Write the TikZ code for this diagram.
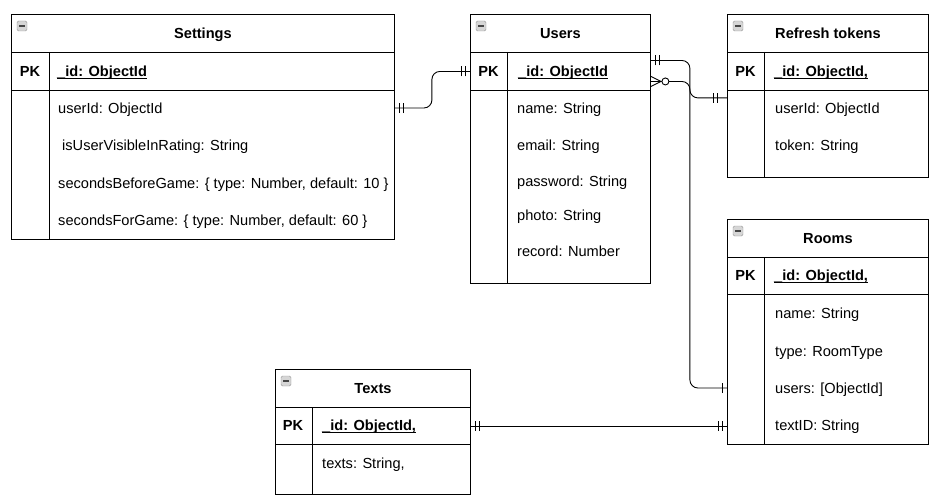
\documentclass[tikz,border=0pt]{standalone}
\usepackage{fontspec}
\setmainfont{Liberation Sans}
\usepackage{tikz}
\usetikzlibrary{decorations.markings}
\usepackage{xcolor}
\definecolor{ColLine}{RGB}{0,0,0}
\definecolor{ColIcon}{RGB}{214,214,214}
\definecolor{ColIconLine}{RGB}{150,150,150}
\definecolor{ColMinus}{RGB}{70,70,70}
\newcommand{\DiaFont}{\fontsize{14.6}{18}\selectfont}
\newcommand{\KeyUl}[1]{\setbox0\hbox{#1}\rlap{\rule[-2.2pt]{\wd0}{0.9pt}}\box0}
\tikzstyle{TabCell}=[draw=ColLine,line width=0.9pt,inner sep=0pt,anchor=north west]
\tikzstyle{TabHead}=[TabCell,minimum height=38pt,text height=10.7pt,text depth=0pt,font=\DiaFont\bfseries]
\tikzstyle{TabLine}=[ColLine,line width=0.9pt]
\tikzstyle{FieldText}=[inner sep=0pt,text height=10.7pt,text depth=0pt,anchor=west]
\tikzstyle{KeyText}=[FieldText,font=\DiaFont\bfseries]
\tikzstyle{PKText}=[FieldText,anchor=center,font=\DiaFont\bfseries]
\tikzstyle{TabIcon}=[draw=ColIconLine,fill=ColIcon,rounded corners=1.5pt,minimum size=10pt,
inner sep=0pt,path picture={\draw[ColMinus,line width=1.3pt]([xshift=-3pt]path picture bounding box.center)--([xshift=3pt]path picture bounding box.center);}]
\tikzstyle{Rel}=[draw=ColLine,line width=0.9pt,rounded corners=8pt]
\tikzset{
  MandStart/.style={postaction={decorate,decoration={markings,
    mark=at position 5pt with {\draw[TabLine](0,-5pt)--(0,5pt);},
    mark=at position 9pt with {\draw[TabLine](0,-5pt)--(0,5pt);}}}},
  MandEnd/.style={postaction={decorate,decoration={markings,
    mark=at position -5pt with {\draw[TabLine](0,-5pt)--(0,5pt);},
    mark=at position -9pt with {\draw[TabLine](0,-5pt)--(0,5pt);}}}},
  MandEndFar/.style={postaction={decorate,decoration={markings,
    mark=at position -10pt with {\draw[TabLine](0,-5pt)--(0,5pt);},
    mark=at position -14pt with {\draw[TabLine](0,-5pt)--(0,5pt);}}}},
  OneEnd/.style={postaction={decorate,decoration={markings,
    mark=at position -5pt with {\draw[TabLine](0,-5pt)--(0,5pt);}}}},
  ZeroManyStart/.style={postaction={decorate,decoration={markings,
    mark=at position 10pt with {\draw[TabLine](0,0)--(-10pt,5pt)(0,0)--(-10pt,-5pt);},
    mark=at position 14.5pt with {\draw[TabLine,fill=white](0,0)circle(3.5pt);}}}}
}

\begin{document}
\begin{tikzpicture}[x=1pt,y=-1pt,font=\DiaFont]
        \useasboundingbox(0,0)rectangle(941,503);
        \node[TabHead,minimum width=383pt](setHead)at(11,14){Settings};
        \node[TabCell,minimum width=383pt,minimum height=38pt](setPK)at(11,52){};
        \node[TabCell,minimum width=383pt,minimum height=149pt](setBody)at(11,90){};
        \draw[TabLine]([xshift=38pt]setPK.north west)--([xshift=38pt]setBody.south west);
        \node[TabIcon](setIcon)at([xshift=11pt,yshift=-12pt]setHead.north west){};
        \node[PKText](setPKl)at(30,71){PK};
        \node[KeyText](setKey)at(57,71){\KeyUl{\_id: ObjectId}};
        \node[FieldText](setUser)at(58,108){userId: ObjectId};
        \node[FieldText](setVisible)at(62,145){isUserVisibleInRating: String};
        \node[FieldText](setBefore)at(58,183){secondsBeforeGame: \{ type: Number, default: 10 \}};
        \node[FieldText](setFor)at(58,220){secondsForGame: \{ type: Number, default: 60 \}};

        \node[TabHead,minimum width=180pt](usrHead)at(470,14){Users};
        \node[TabCell,minimum width=180pt,minimum height=38pt](usrPK)at(470,52){};
        \node[TabCell,minimum width=180pt,minimum height=193pt](usrBody)at(470,90){};
        \draw[TabLine]([xshift=37pt]usrPK.north west)--([xshift=37pt]usrBody.south west);
        \node[TabIcon](usrIcon)at([xshift=11pt,yshift=-12pt]usrHead.north west){};
        \node[PKText](usrPKl)at(488.5,71){PK};
        \node[KeyText](usrKey)at(518,71){\KeyUl{\_id: ObjectId}};
        \node[FieldText](usrName)at(517,108){name: String};
        \node[FieldText](usrEmail)at(517,145){email: String};
        \node[FieldText](usrPass)at(517,181){password: String};
        \node[FieldText](usrPhoto)at(517,215){photo: String};
        \node[FieldText](usrRecord)at(517,251){record: Number};

        \node[TabHead,minimum width=201pt](rfsHead)at(727,14){Refresh tokens};
        \node[TabCell,minimum width=201pt,minimum height=38pt](rfsPK)at(727,52){};
        \node[TabCell,minimum width=201pt,minimum height=87pt](rfsBody)at(727,90){};
        \draw[TabLine]([xshift=37pt]rfsPK.north west)--([xshift=37pt]rfsBody.south west);
        \node[TabIcon](rfsIcon)at([xshift=11pt,yshift=-12pt]rfsHead.north west){};
        \node[PKText](rfsPKl)at(745.5,71){PK};
        \node[KeyText](rfsKey)at(774,71){\KeyUl{\_id: ObjectId,}};
        \node[FieldText](rfsUser)at(775,108){userId: ObjectId};
        \node[FieldText](rfsToken)at(775,145){token: String};

        \node[TabHead,minimum width=201pt](rmsHead)at(727,219){Rooms};
        \node[TabCell,minimum width=201pt,minimum height=37pt](rmsPK)at(727,257){};
        \node[TabCell,minimum width=201pt,minimum height=150pt](rmsBody)at(727,294){};
        \draw[TabLine]([xshift=37pt]rmsPK.north west)--([xshift=37pt]rmsBody.south west);
        \node[TabIcon](rmsIcon)at([xshift=11pt,yshift=-12pt]rmsHead.north west){};
        \node[PKText](rmsPKl)at(745.5,275.5){PK};
        \node[KeyText](rmsKey)at(774,275.5){\KeyUl{\_id: ObjectId,}};
        \node[FieldText](rmsName)at(775,313){name: String};
        \node[FieldText](rmsType)at(775,351){type: RoomType};
        \node[FieldText](rmsUsers)at(775,388){users: [ObjectId]};
        \node[FieldText](rmsText)at(775,425){textID: String};

        \node[TabHead,minimum width=195pt](txtHead)at(275,369){Texts};
        \node[TabCell,minimum width=195pt,minimum height=37pt](txtPK)at(275,407){};
        \node[TabCell,minimum width=195pt,minimum height=50pt](txtBody)at(275,444){};
        \draw[TabLine]([xshift=37pt]txtPK.north west)--([xshift=37pt]txtBody.south west);
        \node[TabIcon](txtIcon)at([xshift=11pt,yshift=-12pt]txtHead.north west){};
        \node[PKText](txtPKl)at(293,425.5){PK};
        \node[KeyText](txtKey)at(322,425.5){\KeyUl{\_id: ObjectId,}};
        \node[FieldText](txtTexts)at(322,463){texts: String,};

        \draw[Rel,MandStart,MandEnd](setBody.east|-setUser)--++(37,0)|-(usrPK.west);
        \draw[Rel,MandStart,OneEnd]([yshift=11pt]usrPK.east)--++(39,0)|-(rmsBody.west|-rmsUsers);
        \draw[Rel,ZeroManyStart,MandEndFar]([yshift=-10pt]usrPK.east)--++(39,0)|-([yshift=-7pt]rfsPK.south west);
        \draw[Rel,MandStart,MandEnd](txtPK.east)--(rmsBody.west|-txtPK.east);
    \end{tikzpicture}
\end{document}
